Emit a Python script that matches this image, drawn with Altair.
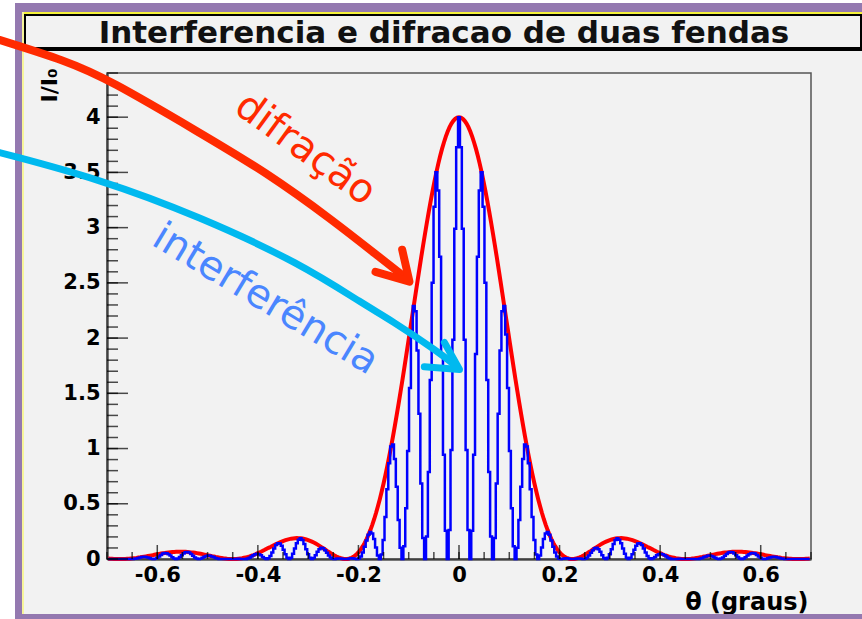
import altair as alt
import pandas as pd

# Two-slit pattern, sampled in bins of THETA_STEP degrees; bin k sits at theta = k * THETA_STEP.
# The pattern is symmetric about theta = 0, so only the theta >= 0 half is listed
# (one interference period = 12 bins per row).
THETA_STEP = 0.00375

# single-slit (diffraction) envelope, I/I0
DIFFRACTION_HALF = [
    4.000, 3.996, 3.985, 3.967, 3.942, 3.910, 3.870, 3.824, 3.771, 3.713, 3.648, 3.577,
    3.501, 3.419, 3.333, 3.242, 3.148, 3.049, 2.947, 2.843, 2.736, 2.627, 2.516, 2.404,
    2.291, 2.178, 2.065, 1.953, 1.841, 1.730, 1.621, 1.514, 1.409, 1.307, 1.208, 1.111,
    1.018, 0.929, 0.843, 0.762, 0.684, 0.611, 0.541, 0.477, 0.416, 0.360, 0.309, 0.262,
    0.219, 0.180, 0.146, 0.116, 0.089, 0.067, 0.048, 0.032, 0.020, 0.011, 0.005, 0.001,
    0.000, 0.001, 0.004, 0.009, 0.015, 0.023, 0.032, 0.042, 0.052, 0.063, 0.074, 0.086,
    0.097, 0.108, 0.119, 0.130, 0.140, 0.149, 0.157, 0.164, 0.171, 0.177, 0.181, 0.185,
    0.187, 0.188, 0.189, 0.188, 0.186, 0.184, 0.180, 0.176, 0.171, 0.165, 0.158, 0.151,
    0.143, 0.135, 0.127, 0.118, 0.109, 0.101, 0.092, 0.083, 0.075, 0.066, 0.058, 0.051,
    0.043, 0.036, 0.030, 0.024, 0.019, 0.015, 0.011, 0.007, 0.005, 0.003, 0.001, 0.000,
    0.000, 0.000, 0.001, 0.002, 0.004, 0.006, 0.009, 0.012, 0.015, 0.018, 0.022, 0.025,
    0.029, 0.033, 0.036, 0.040, 0.044, 0.047, 0.050, 0.053, 0.056, 0.058, 0.060, 0.062,
    0.064, 0.065, 0.066, 0.066, 0.066, 0.066, 0.065, 0.064, 0.063, 0.061, 0.059, 0.057,
    0.054, 0.052, 0.049, 0.046, 0.043, 0.040, 0.036, 0.033, 0.030, 0.027, 0.024, 0.021,
    0.018, 0.015, 0.013, 0.010, 0.008, 0.006, 0.005, 0.003, 0.002, 0.001, 0.001, 0.000,
    0.000, 0.000, 0.000, 0.001, 0.002, 0.003, 0.004,
]

# full two-slit intensity (interference fringes under the envelope), I/I0
INTERFERENCE_HALF = [
    4.000, 3.728, 2.989, 1.984, 0.986, 0.262, 0.000, 0.256, 0.943, 1.857, 2.736, 3.337,
    3.501, 3.190, 2.500, 1.621, 0.787, 0.204, 0.000, 0.190, 0.684, 1.314, 1.887, 2.243,
    2.291, 2.032, 1.549, 0.977, 0.460, 0.116, 0.000, 0.101, 0.352, 0.654, 0.906, 1.037,
    1.018, 0.867, 0.632, 0.381, 0.171, 0.041, 0.000, 0.032, 0.104, 0.180, 0.232, 0.244,
    0.219, 0.168, 0.110, 0.058, 0.022, 0.004, 0.000, 0.002, 0.005, 0.006, 0.004, 0.001,
    0.000, 0.001, 0.003, 0.005, 0.004, 0.002, 0.000, 0.003, 0.013, 0.032, 0.056, 0.080,
    0.097, 0.101, 0.089, 0.065, 0.035, 0.010, 0.000, 0.011, 0.043, 0.089, 0.136, 0.173,
    0.187, 0.175, 0.142, 0.094, 0.047, 0.012, 0.000, 0.012, 0.043, 0.083, 0.119, 0.141,
    0.143, 0.126, 0.095, 0.059, 0.027, 0.007, 0.000, 0.006, 0.019, 0.033, 0.044, 0.048,
    0.043, 0.034, 0.023, 0.012, 0.005, 0.001, 0.000, 0.000, 0.001, 0.002, 0.001, 0.000,
    0.000, 0.000, 0.001, 0.001, 0.001, 0.000, 0.000, 0.001, 0.004, 0.009, 0.017, 0.023,
    0.029, 0.031, 0.027, 0.020, 0.011, 0.003, 0.000, 0.004, 0.014, 0.029, 0.045, 0.058,
    0.064, 0.061, 0.050, 0.033, 0.017, 0.004, 0.000, 0.004, 0.016, 0.031, 0.044, 0.053,
    0.054, 0.049, 0.037, 0.023, 0.011, 0.003, 0.000, 0.002, 0.008, 0.014, 0.018, 0.020,
    0.018, 0.014, 0.010, 0.005, 0.002, 0.000, 0.000, 0.000, 0.001, 0.001, 0.001, 0.000,
    0.000, 0.000, 0.000, 0.001, 0.001, 0.000, 0.000,
]

X_LABELS = [-0.6, -0.4, -0.2, 0, 0.2, 0.4, 0.6]
Y_LABELS = [0, 0.5, 1, 1.5, 2, 2.5, 3, 3.5, 4]
X_MINOR = [round(-0.7 + 0.05 * i, 2) for i in range(29)]
Y_MINOR = [round(0.1 * i, 1) for i in range(45)]

# annotation arrows (theta, I/I0)
RED_ARROW_THETA = [-0.914, -0.781, -0.696, -0.516, -0.383, -0.252, -0.152, -0.104]
RED_ARROW_I = [4.70, 4.51, 4.34, 3.86, 3.50, 3.07, 2.71, 2.54]
RED_HEAD_THETA = [-0.166, -0.0985, -0.113]
RED_HEAD_I = [2.60, 2.512, 2.80]
CYAN_ARROW_THETA = [-0.914, -0.715, -0.516, -0.317, -0.184, -0.138, -0.039, -0.004]
CYAN_ARROW_I = [3.68, 3.44, 3.10, 2.68, 2.29, 2.17, 1.87, 1.74]
CYAN_HEAD_THETA = [-0.069, 0.001, -0.029]
CYAN_HEAD_I = [1.74, 1.715, 1.96]

W, H = 704, 486
X_DOM = [-0.7, 0.7]
Y_DOM = [0, 4.4]
BOLD_FONT = "DejaVu Sans"

n = len(DIFFRACTION_HALF)
rows = []
for k in range(-(n - 1), n):
    rows.append({
        "theta": round(k * THETA_STEP, 5),
        "dif": DIFFRACTION_HALF[abs(k)],
        "inter": INTERFERENCE_HALF[abs(k)],
    })
curves = pd.DataFrame(rows)

xs = alt.Scale(domain=X_DOM, nice=False, zero=False)
ys = alt.Scale(domain=Y_DOM, nice=False)

x_axis = alt.Axis(
    values=X_LABELS, ticks=False, grid=False, domainColor="black", domainWidth=2,
    labelFont=BOLD_FONT, labelFontWeight="bold", labelFontSize=21, labelColor="black",
    labelPadding=5, labelFlush=False, labelOverlap=False,
    labelExpr="replace(format(datum.value, '~g'), '\u2212', '-')",
    title="θ (graus)", titleFont=BOLD_FONT, titleFontWeight="bold", titleFontSize=24,
    titleColor="black", titleX=701, titleY=50, titleAlign="right",
    titleBaseline="alphabetic", zindex=0,
)
y_axis = alt.Axis(
    values=Y_LABELS, ticks=False, grid=False, domainColor="black", domainWidth=2,
    labelFont=BOLD_FONT, labelFontWeight="bold", labelFontSize=21, labelColor="black",
    labelPadding=7, labelFlush=False, labelOverlap=False,
    labelExpr="replace(format(datum.value, '~g'), '\u2212', '-')",
    title="I/I₀", titleFont=BOLD_FONT, titleFontWeight="bold", titleFontSize=22,
    titleColor="black", titleAngle=270, titleX=-58, titleY=12, titleAlign="center",
    titleBaseline="middle", zindex=0,
)

one = pd.DataFrame({"a": [0]})


def rect(x, x2, y, y2, fill, stroke=None, sw=0):
    kw = {"fill": fill}
    if stroke:
        kw.update(stroke=stroke, strokeWidth=sw)
    return alt.Chart(one).mark_rect(**kw).encode(
        x=alt.value(x), x2=alt.value(x2), y=alt.value(y), y2=alt.value(y2)
    )


# page frame: white margin, purple border, yellow inner edge
frame = [
    rect(-107, -92, -73, 546, "white"),
    rect(-107, 755, -73, -70, "white"),
    rect(-92, -85, -70, 546, "#9479b0"),
    rect(-92, 755, -70, -61, "#9479b0"),
    rect(-92, 755, 541, 546, "#9479b0"),
    rect(-85, 755, -61, -59, "#f5f23a"),
    rect(-85, -83, -61, 541, "#f7f59a"),
]

# title box
title_box = rect(-82, 754, -58, -25, "#f2f2f2", "black", 2)
title_shadow = rect(-81, 755, -25, -22, "black")
title_text = alt.Chart(one).mark_text(
    text="Interferencia e difracao de duas fendas", font=BOLD_FONT, fontWeight="bold",
    fontSize=31, color="#111", align="center", baseline="alphabetic",
).encode(x=alt.value(337), y=alt.value(-30))

# plot frame (top/right edges visible; left/bottom are the axes)
plot_frame = alt.Chart(one).mark_rect(fill=None, stroke="#555", strokeWidth=1.5).encode(
    x=alt.datum(X_DOM[0], scale=xs), x2=alt.datum(X_DOM[1]),
    y=alt.datum(Y_DOM[0], scale=ys), y2=alt.datum(Y_DOM[1]),
)

base = alt.Chart(curves)
red = base.mark_line(color="#ff0000", strokeWidth=4).encode(
    x=alt.X("theta:Q", scale=xs, axis=x_axis),
    y=alt.Y("dif:Q", scale=ys, axis=y_axis),
)
blue = base.mark_line(color="#0000ff", strokeWidth=2.5, interpolate="step").encode(
    x=alt.X("theta:Q", scale=xs), y=alt.Y("inter:Q", scale=ys),
)

# axis ticks pointing into the plot
xt_minor = alt.Chart(pd.DataFrame({"t": X_MINOR})).mark_tick(
    orient="vertical", size=7, thickness=1.5, color="black", yOffset=-3.5
).encode(x=alt.X("t:Q", scale=xs), y=alt.datum(0, scale=ys))
xt_major = alt.Chart(pd.DataFrame({"t": X_LABELS})).mark_tick(
    orient="vertical", size=14, thickness=1.5, color="black", yOffset=-7
).encode(x=alt.X("t:Q", scale=xs), y=alt.datum(0, scale=ys))
yt_minor = alt.Chart(pd.DataFrame({"t": Y_MINOR})).mark_tick(
    orient="horizontal", size=11, thickness=1.5, color="black", xOffset=5.5
).encode(y=alt.Y("t:Q", scale=ys), x=alt.datum(X_DOM[0], scale=xs))
yt_major = alt.Chart(pd.DataFrame({"t": Y_LABELS})).mark_tick(
    orient="horizontal", size=21, thickness=1.5, color="black", xOffset=10.5
).encode(y=alt.Y("t:Q", scale=ys), x=alt.datum(X_DOM[0], scale=xs))


def path(thetas, vals, color, interp, width):
    df = pd.DataFrame({"theta": thetas, "v": vals, "i": list(range(len(thetas)))})
    return alt.Chart(df).mark_line(
        color=color, strokeWidth=width, interpolate=interp, strokeCap="round",
        strokeJoin="round", clip=False,
    ).encode(
        x=alt.X("theta:Q", scale=xs), y=alt.Y("v:Q", scale=ys), order="i:Q"
    )


RED_ANN = "#ff2a00"
CYAN_ANN = "#00b9ef"
arrows = [
    path(RED_ARROW_THETA, RED_ARROW_I, RED_ANN, "basis", 8),
    path(RED_HEAD_THETA, RED_HEAD_I, RED_ANN, "linear", 8),
    path(CYAN_ARROW_THETA, CYAN_ARROW_I, CYAN_ANN, "basis", 7),
    path(CYAN_HEAD_THETA, CYAN_HEAD_I, CYAN_ANN, "linear", 7),
]

lbl_dif = alt.Chart(one).mark_text(
    text="difração", font="DejaVu Sans", fontSize=40, color=RED_ANN, angle=36,
    align="center", baseline="middle",
).encode(x=alt.datum(-0.3055, scale=xs), y=alt.datum(3.71, scale=ys))
lbl_int = alt.Chart(one).mark_text(
    text="interferência", font="DejaVu Sans", fontSize=40, color="#4a86ff", angle=31,
    align="center", baseline="middle",
).encode(x=alt.datum(-0.385, scale=xs), y=alt.datum(2.35, scale=ys))

chart = alt.layer(
    red, *frame, title_box, title_shadow, title_text, plot_frame, blue,
    xt_minor, xt_major, yt_minor, yt_major, *arrows, lbl_dif, lbl_int,
).properties(
    width=W, height=H,
    autosize=alt.AutoSizeParams(type="none"),
    padding={"left": 107, "top": 73, "right": 51, "bottom": 60},
    background="#f2f2f2",
).configure_view(stroke=None, fill="#f2f2f2")

chart.save("out.html", embed_options={"renderer": "svg", "actions": False})
